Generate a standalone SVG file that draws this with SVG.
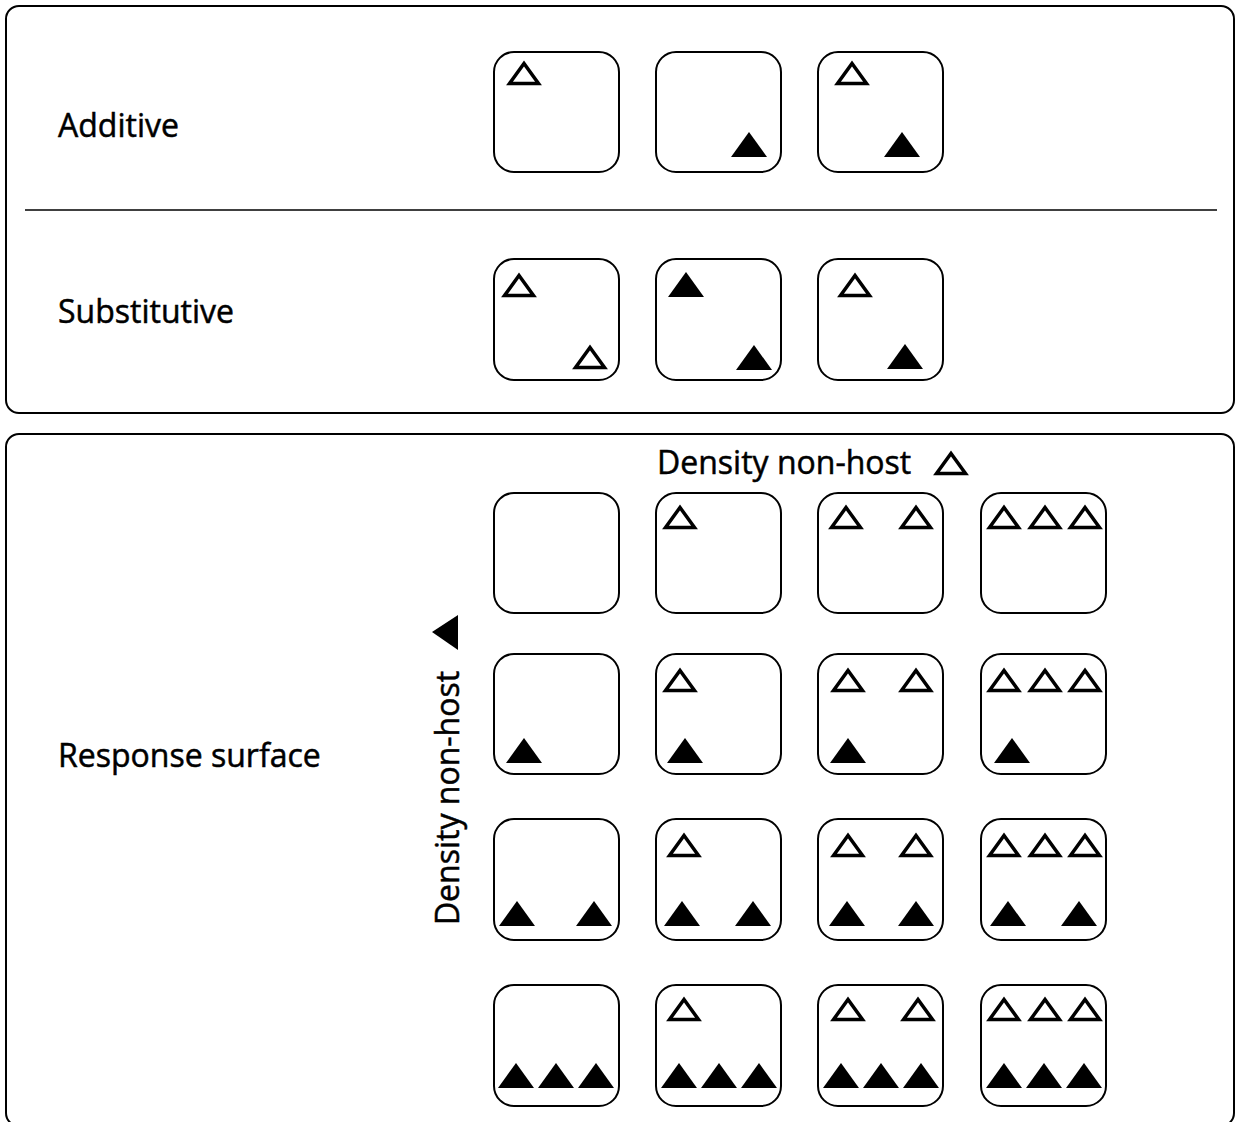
<svg xmlns="http://www.w3.org/2000/svg" xmlns:xlink="http://www.w3.org/1999/xlink" width="1235" height="1122" viewBox="0 0 1235 1122">
  <style>
    .panel { fill: #fff; stroke: #000; stroke-width: 2; }
    .cell { fill: #fff; stroke: #000; stroke-width: 2; }
    .lbl { font-family: "Open Sans", "Liberation Sans", sans-serif; font-size: 32px; fill: #000; stroke: #000; stroke-width: 0.5; }
    .rule { stroke: #000; stroke-width: 1.5; }
  </style>
  <defs>
    <!-- open (non-host, white) triangle: ~34 x 24 -->
    <polygon id="o" points="2.5,22.5 17,2.5 31.5,22.5" fill="#fff" stroke="#000" stroke-width="3.5"/>
    <!-- filled (non-host, black) triangle: ~36 x 25 -->
    <polygon id="f" points="0,25 18,0 36,25" fill="#000"/>
  </defs>

  <rect width="1235" height="1122" fill="#fff"/>

  <!-- outer panels -->
  <g id="panel-top">
    <rect class="panel" x="6" y="6" width="1228" height="407" rx="13"/>
    <line class="rule" x1="25" y1="210" x2="1217" y2="210"/>
  </g>
  <g id="panel-bottom">
    <rect class="panel" x="6" y="434" width="1228" height="692" rx="13"/>
  </g>

  <!-- row labels -->
  <text class="lbl" x="58" y="137">Additive</text>
  <text class="lbl" x="58" y="323">Substitutive</text>
  <text class="lbl" x="58" y="767">Response surface</text>

  <!-- axis labels -->
  <g id="axis-x">
    <text class="lbl" x="657" y="474">Density non-host</text>
    <use href="#o" x="934" y="451"/>
  </g>
  <g id="axis-y">
    <text class="lbl" transform="translate(459,798) rotate(-90)" text-anchor="middle">Density non-host</text>
    <polygon points="432,632 458,615 458,650" fill="#000"/>
  </g>

  <!-- additive design -->
  <g id="add-1"><rect class="cell" x="494" y="52" width="125" height="120" rx="20"/><use href="#o" x="507" y="61"/></g>
  <g id="add-2"><rect class="cell" x="656" y="52" width="125" height="120" rx="20"/><use href="#f" x="731" y="132"/></g>
  <g id="add-3"><rect class="cell" x="818" y="52" width="125" height="120" rx="20"/><use href="#o" x="835" y="61"/><use href="#f" x="884" y="132"/></g>

  <!-- substitutive design -->
  <g id="sub-1"><rect class="cell" x="494" y="259" width="125" height="121" rx="20"/><use href="#o" x="502" y="273"/><use href="#o" x="573" y="345"/></g>
  <g id="sub-2"><rect class="cell" x="656" y="259" width="125" height="121" rx="20"/><use href="#f" x="668" y="272"/><use href="#f" x="736" y="345"/></g>
  <g id="sub-3"><rect class="cell" x="818" y="259" width="125" height="121" rx="20"/><use href="#o" x="838" y="273"/><use href="#f" x="887" y="344"/></g>

  <!-- response surface design: rows = black density 0..3, cols = white density 0..3 -->
  <g id="rs-0-0"><rect class="cell" x="494" y="493" width="125" height="120" rx="20"/></g>
  <g id="rs-0-1"><rect class="cell" x="656" y="493" width="125" height="120" rx="20"/><use href="#o" x="663" y="505"/></g>
  <g id="rs-0-2"><rect class="cell" x="818" y="493" width="125" height="120" rx="20"/><use href="#o" x="829" y="505"/><use href="#o" x="899" y="505"/></g>
  <g id="rs-0-3"><rect class="cell" x="981" y="493" width="125" height="120" rx="20"/><use href="#o" x="987" y="505"/><use href="#o" x="1028" y="505"/><use href="#o" x="1068" y="505"/></g>

  <g id="rs-1-0"><rect class="cell" x="494" y="654" width="125" height="120" rx="20"/><use href="#f" x="506" y="738"/></g>
  <g id="rs-1-1"><rect class="cell" x="656" y="654" width="125" height="120" rx="20"/><use href="#o" x="663" y="668"/><use href="#f" x="667" y="738"/></g>
  <g id="rs-1-2"><rect class="cell" x="818" y="654" width="125" height="120" rx="20"/><use href="#o" x="831" y="668"/><use href="#o" x="899" y="668"/><use href="#f" x="830" y="738"/></g>
  <g id="rs-1-3"><rect class="cell" x="981" y="654" width="125" height="120" rx="20"/><use href="#o" x="987" y="668"/><use href="#o" x="1028" y="668"/><use href="#o" x="1068" y="668"/><use href="#f" x="994" y="738"/></g>

  <g id="rs-2-0"><rect class="cell" x="494" y="819" width="125" height="121" rx="20"/><use href="#f" x="499" y="901"/><use href="#f" x="576" y="901"/></g>
  <g id="rs-2-1"><rect class="cell" x="656" y="819" width="125" height="121" rx="20"/><use href="#o" x="667" y="833"/><use href="#f" x="664" y="901"/><use href="#f" x="735" y="901"/></g>
  <g id="rs-2-2"><rect class="cell" x="818" y="819" width="125" height="121" rx="20"/><use href="#o" x="831" y="833"/><use href="#o" x="899" y="833"/><use href="#f" x="829" y="901"/><use href="#f" x="898" y="901"/></g>
  <g id="rs-2-3"><rect class="cell" x="981" y="819" width="125" height="121" rx="20"/><use href="#o" x="987" y="833"/><use href="#o" x="1028" y="833"/><use href="#o" x="1068" y="833"/><use href="#f" x="990" y="901"/><use href="#f" x="1061" y="901"/></g>

  <g id="rs-3-0"><rect class="cell" x="494" y="985" width="125" height="121" rx="20"/><use href="#f" x="498" y="1063"/><use href="#f" x="538" y="1063"/><use href="#f" x="578" y="1063"/></g>
  <g id="rs-3-1"><rect class="cell" x="656" y="985" width="125" height="121" rx="20"/><use href="#o" x="667" y="997"/><use href="#f" x="661" y="1063"/><use href="#f" x="701" y="1063"/><use href="#f" x="741" y="1063"/></g>
  <g id="rs-3-2"><rect class="cell" x="818" y="985" width="125" height="121" rx="20"/><use href="#o" x="831" y="997"/><use href="#o" x="901" y="997"/><use href="#f" x="823" y="1063"/><use href="#f" x="863" y="1063"/><use href="#f" x="903" y="1063"/></g>
  <g id="rs-3-3"><rect class="cell" x="981" y="985" width="125" height="121" rx="20"/><use href="#o" x="987" y="997"/><use href="#o" x="1028" y="997"/><use href="#o" x="1068" y="997"/><use href="#f" x="986" y="1063"/><use href="#f" x="1026" y="1063"/><use href="#f" x="1066" y="1063"/></g>

  <!-- no connectors in this figure -->
  <g id="connectors"/>
</svg>
